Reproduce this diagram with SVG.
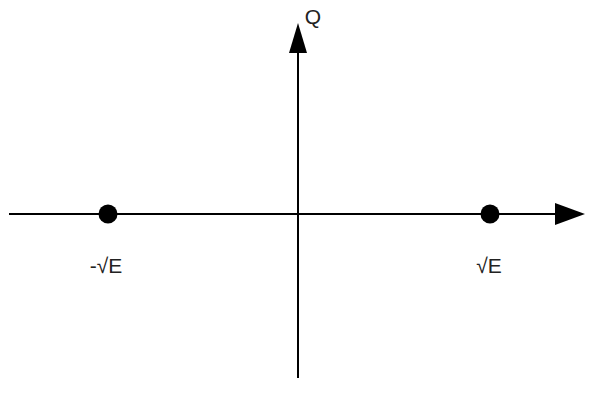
<svg xmlns="http://www.w3.org/2000/svg" width="608" height="411" viewBox="0 0 608 411">
<style>
.axis{stroke:#000;stroke-width:2;fill:none}
.head{fill:#000}
.dot{fill:#000}
.lbl{font-family:"Liberation Sans",Arial,sans-serif;font-size:21px;fill:#222;text-anchor:middle}
</style>
<rect width="608" height="411" fill="#fff"/>
<g id="connectors">
<line class="axis" x1="9" y1="214" x2="560" y2="214"/>
<polygon class="head" points="585,214 555,203 555,225"/>
<line class="axis" x1="298" y1="378" x2="298" y2="48"/>
<polygon class="head" points="298,23 289,53 307,53"/>
</g>
<g id="axis-q"><text class="lbl" x="313" y="24">Q</text></g>
<g id="point-neg"><circle class="dot" cx="108" cy="214" r="9.5"/><text class="lbl" x="106" y="273">-√E</text></g>
<g id="point-pos"><circle class="dot" cx="490" cy="214" r="9.5"/><text class="lbl" x="489" y="273">√E</text></g>
</svg>
